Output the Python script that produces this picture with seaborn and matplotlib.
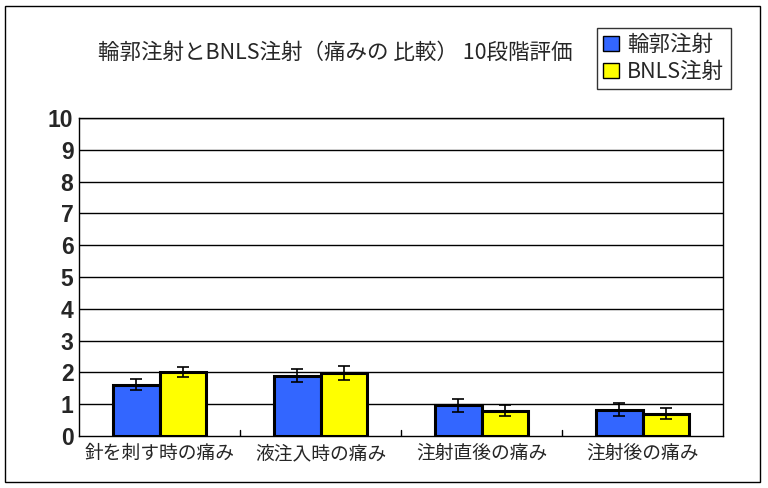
import matplotlib
matplotlib.use("Agg")
import matplotlib.pyplot as plt
import seaborn as sns
import pandas as pd
import numpy as np

categories = ["針を刺す時の痛み", "液注入時の痛み", "注射直後の痛み", "注射後の痛み"]
series_names = ["輪郭注射", "BNLS注射"]
rinkaku_values = [1.61, 1.90, 0.96, 0.83]
bnls_values = [2.01, 1.97, 0.80, 0.70]
rinkaku_err = [0.17, 0.21, 0.21, 0.20]
bnls_err = [0.17, 0.22, 0.18, 0.18]
y_ticks = list(range(0, 11))
title = "輪郭注射とBNLS注射（痛みの 比較） 10段階評価"

sns.set_theme(style="white")
plt.rcParams['font.family'] = ['Noto Sans CJK JP', 'DejaVu Sans']

df = pd.DataFrame({
    "category": categories * 2,
    "series": [series_names[0]] * 4 + [series_names[1]] * 4,
    "value": rinkaku_values + bnls_values,
})

fig = plt.figure(figsize=(7.68, 4.88), dpi=100)
ax = fig.add_axes([79/768, 52/488, (723-79)/768, (436-118)/488])

colors = ["#3366FF", "#FFFF00"]
sns.barplot(data=df, x="category", y="value", hue="series", palette=colors,
            saturation=1, width=0.58, edgecolor="black", linewidth=2.2,
            errorbar=None, ax=ax, zorder=3)

# error bars
errs = [rinkaku_err, bnls_err]
vals = [rinkaku_values, bnls_values]
bar_containers = list(ax.containers)
for i, cont in enumerate(bar_containers):
    xs = [p.get_x() + p.get_width() / 2 for p in cont.patches]
    ax.errorbar(xs, vals[i], yerr=errs[i], fmt="none", ecolor="black",
                elinewidth=1.2, capsize=4, capthick=1.2, zorder=4)

ax.set_ylim(0, 10)
ax.set_xlim(-0.5, 3.5)
ax.set_yticks(y_ticks)
ax.set_yticklabels([str(t) for t in y_ticks], fontsize=16.5, fontweight="bold",
                   family=['Liberation Sans', 'DejaVu Sans'])
for t in y_ticks[1:]:
    ax.axhline(t, color="black", linewidth=1.0, zorder=1)
ax.set_xticks(range(4))
ax.set_xticklabels(categories, fontsize=13.5)
ax.tick_params(axis="x", length=0, pad=5)
ax.tick_params(axis="y", length=0, pad=4)
for b in [0.5, 1.5, 2.5]:
    ax.plot([b, b], [0, 0.18], color="black", linewidth=1.0, zorder=2)
ax.set_xlabel("")
ax.set_ylabel("")
for s in ax.spines.values():
    s.set_visible(True)
    s.set_color("black")
    s.set_linewidth(1.0)

leg = ax.legend(loc="upper left", bbox_to_anchor=(597/768, (488-28)/488),
                bbox_transform=fig.transFigure, frameon=True, fancybox=False,
                edgecolor="black", fontsize=15.5, handlelength=0.7,
                handleheight=0.7, handletextpad=0.4, borderpad=0.3,
                labelspacing=0.2, borderaxespad=0)
leg.get_frame().set_linewidth(1.0)
for h in leg.legend_handles:
    h.set_linewidth(1.0)

fig.text(335/768, 1 - 53/488, title, fontsize=15.5, ha="center", va="center")

# outer figure frame
fig.patches.append(plt.Rectangle((5/768, 6/488), 755/768, 476/488,
                                 transform=fig.transFigure, fill=False,
                                 edgecolor="black", linewidth=1.0))

fig.savefig("out.png", dpi=100)
